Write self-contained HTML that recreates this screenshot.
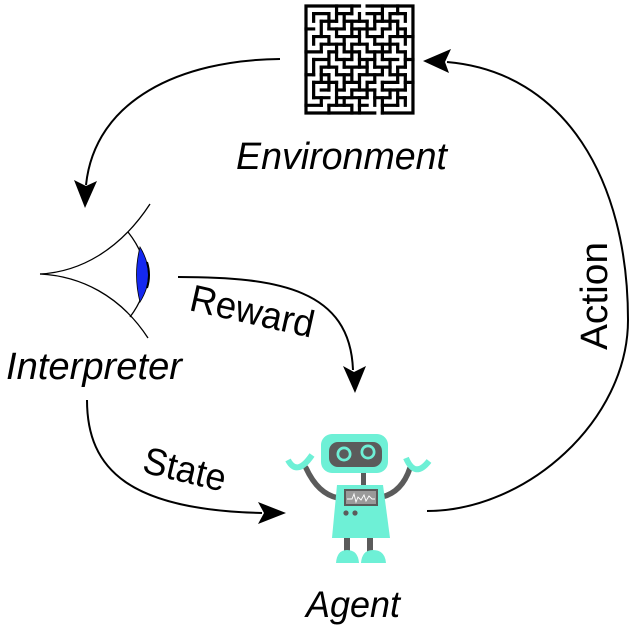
<!DOCTYPE html>
<html><head><meta charset="utf-8"><style>
html,body{margin:0;padding:0;background:#fff;}
svg{display:block;}
text{font-family:"Liberation Sans",Arial,sans-serif;fill:#000;}
</style></head><body>
<svg width="640" height="640" viewBox="0 0 640 640" xmlns="http://www.w3.org/2000/svg">
<rect width="640" height="640" fill="#fff"/>

<!-- Maze -->
<g transform="translate(306,6) scale(7.64)" stroke="#000" stroke-width="0.42" stroke-linecap="square" fill="none">
  <path d="M0,0H7 M8,0H14 V14 H10 M9,14 H0 V0"/>
  <path d="M1,1H3 M4,1H6 M8,1H10 M11,1H13
  M2,2H4 M5,2H8 M9,2H12
  M0,3H1 M3,3H5 M6,3H9 M10,3H11 M12,3H13
  M1,4H3 M4,4H7 M8,4H10 M11,4H14
  M2,5H5 M6,5H8 M9,5H12
  M0,6H2 M3,6H4 M5,6H7 M8,6H11 M12,6H13
  M1,7H3 M4,7H6 M7,7H9 M10,7H12 M13,7H14
  M2,8H4 M5,8H8 M9,8H11 M12,8H13
  M0,9H1 M2,9H3 M4,9H6 M7,9H10 M11,9H13
  M1,10H4 M5,10H7 M8,10H9 M10,10H12 M13,10H14
  M2,11H3 M4,11H5 M6,11H9 M10,11H13
  M1,12H3 M4,12H8 M9,12H11 M12,12H13
  M0,13H2 M3,13H6 M7,13H8 M10,13H12"/>
  <path d="M1,1V2 M1,4V5 M1,7V9 M1,10V12
  M2,2V4 M2,5V6 M2,8V10 M2,12V13
  M3,1V3 M3,4V5 M3,6V8 M3,9V11 M3,13V14
  M4,0V2 M4,3V4 M4,5V7 M4,8V9 M4,10V13
  M5,1V3 M5,4V6 M5,7V8 M5,9V11 M5,12V13
  M6,0V1 M6,2V4 M6,5V7 M6,8V10 M6,11V12 M6,13V14
  M7,1V2 M7,3V5 M7,6V8 M7,9V11 M7,12V14
  M8,2V4 M8,5V6 M8,7V9 M8,10V12
  M9,1V3 M9,4V5 M9,6V8 M9,9V10 M9,11V13
  M10,0V2 M10,3V4 M10,5V7 M10,8V9 M10,10V11 M10,12V14
  M11,1V3 M11,4V6 M11,7V9 M11,11V12
  M12,0V1 M12,2V4 M12,5V6 M12,8V10 M12,11V13
  M13,1V2 M13,3V5 M13,6V8 M13,9V11 M13,12V13"/>
</g>

<!-- Arrows -->
<g fill="none" stroke="#000" stroke-width="2">
  <path d="M280,59 C180,60 95,100 86,185"/>
  <path d="M427,511 C527,511 628,420 628,320 C628,180 565,72 447,62"/>
  <path d="M178,277 C280,277 350,290 353,370"/>
  <path d="M87,400 C87,470 130,510 262,513"/>
</g>
<g fill="#000">
  <path d="M85,208 L74,180 L86,186 L97,181 Z"/>
  <path d="M423,61 L451,49 L445,62 L449,73 Z"/>
  <path d="M355,393 L343,366 L354,372 L366,366 Z"/>
  <path d="M286,513 L258,502 L264,513 L258,524 Z"/>
</g>

<!-- Eye -->
<g fill="none" stroke="#000" stroke-width="1.3">
  <path d="M40,274 C80,272 120,250 150,204"/>
  <path d="M40,274 C80,276 120,295 148,338"/>
  <path d="M128,232 Q162,275 130,317"/>
</g>
<path d="M140,247 Q157,275 140,302 Q133,275 140,247 Z" fill="#1428f0" stroke="#000" stroke-width="0.8"/>
<path d="M147,262 Q151,275 147,288" fill="none" stroke="#000" stroke-width="2"/>

<!-- Robot -->
<g>
  <path d="M338,498 Q318,494 306,468" fill="none" stroke="#5b5b5b" stroke-width="5.5" stroke-linecap="round"/>
  <path d="M382,497 Q402,492 410,468" fill="none" stroke="#5b5b5b" stroke-width="5.5" stroke-linecap="round"/>
  <path d="M288,460 Q297,477 312,455" fill="none" stroke="#6ef0d6" stroke-width="6"/>
  <path d="M406,458 Q415,479 429,461" fill="none" stroke="#6ef0d6" stroke-width="6"/>
  <rect x="361" y="470" width="5" height="17" fill="#5b5b5b"/>
  <rect x="344" y="536" width="6" height="18" fill="#5b5b5b"/>
  <rect x="367" y="536" width="6" height="18" fill="#5b5b5b"/>
  <path d="M336,563 Q337,550 347,550 Q358,550 359,563 Z" fill="#6ef0d6"/>
  <path d="M361,563 Q362,550 373,550 Q385,550 386,563 Z" fill="#6ef0d6"/>
  <path d="M337,485 L383,485 L390,538 L332,538 Z" fill="#6ef0d6"/>
  <rect x="344" y="489" width="34" height="17" fill="#5b5b5b"/>
  <rect x="346" y="491" width="30" height="13" fill="#9a9a9a"/>
  <path d="M347,499 L352,499 L354,494 L356,502 L358,497 L361,500 L364,495 L366,501 L369,496 L372,499 L375,499" fill="none" stroke="#fff" stroke-width="0.9"/>
  <circle cx="346" cy="513" r="2.6" fill="#5b5b5b"/>
  <circle cx="355" cy="513" r="2.6" fill="#5b5b5b"/>
  <rect x="321" y="434" width="67" height="39" rx="11" fill="#6ef0d6"/>
  <rect x="329" y="442" width="53" height="25" rx="9" fill="#5b5b5b"/>
  <circle cx="344" cy="454" r="7.5" fill="#6ef0d6"/>
  <circle cx="344" cy="454" r="4.8" fill="#5b5b5b"/>
  <circle cx="368" cy="452" r="7.5" fill="#6ef0d6"/>
  <circle cx="368" cy="452" r="4.8" fill="#5b5b5b"/>
</g>

<!-- Labels -->
<text x="236" y="169" font-size="38" font-style="italic" textLength="211" lengthAdjust="spacingAndGlyphs">Environment</text>
<text x="6" y="379" font-size="38" font-style="italic" textLength="176" lengthAdjust="spacingAndGlyphs">Interpreter</text>
<text x="306" y="617" font-size="37" font-style="italic" textLength="94" lengthAdjust="spacingAndGlyphs">Agent</text>
<text transform="translate(188,310) rotate(12.7)" font-size="38" textLength="126" lengthAdjust="spacingAndGlyphs">Reward</text>
<text transform="translate(141,472) rotate(13.5)" font-size="38" textLength="84" lengthAdjust="spacingAndGlyphs">State</text>
<text transform="translate(607,350) rotate(-90)" font-size="38" textLength="108" lengthAdjust="spacingAndGlyphs">Action</text>
</svg>
</body></html>
